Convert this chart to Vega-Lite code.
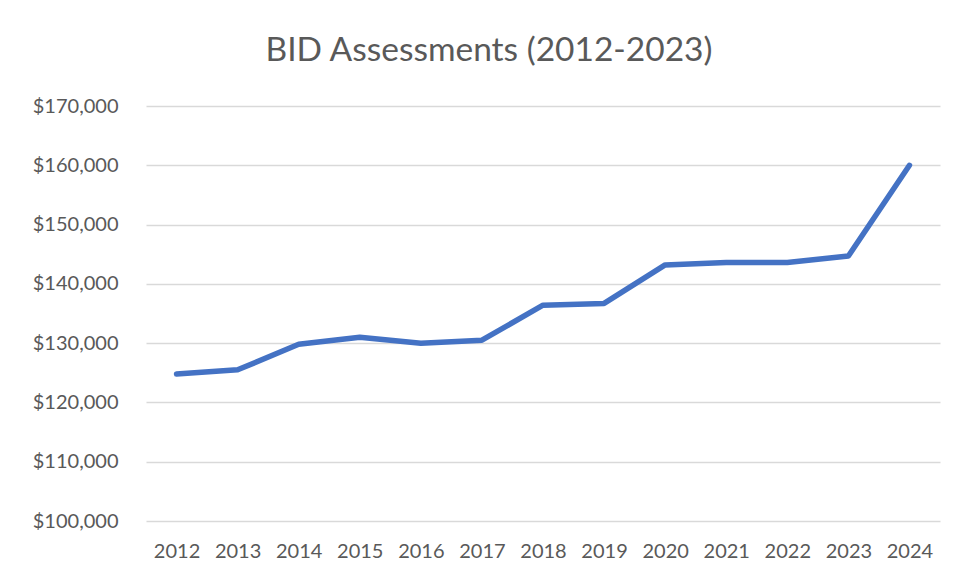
{
  "$schema": "https://vega.github.io/schema/vega-lite/v6.json",
  "autosize": {"type": "none"},
  "width": 794,
  "height": 415,
  "padding": {"left": 146, "top": 106, "right": 26, "bottom": 58},
  "background": "white",
  "config": {"view": {"stroke": null}, "font": "Lato"},
  "title": {
    "text": "BID Assessments (2012-2023)",
    "font": "Lato",
    "fontSize": 33.5,
    "fontWeight": "normal",
    "color": "#595959",
    "anchor": "middle",
    "dx": -54,
    "offset": 28
  },
  "data": {
    "values": [
      {"year": "2012", "amount": 124800},
      {"year": "2013", "amount": 125500},
      {"year": "2014", "amount": 129800},
      {"year": "2015", "amount": 131000},
      {"year": "2016", "amount": 130000},
      {"year": "2017", "amount": 130500},
      {"year": "2018", "amount": 136400},
      {"year": "2019", "amount": 136700},
      {"year": "2020", "amount": 143200},
      {"year": "2021", "amount": 143600},
      {"year": "2022", "amount": 143600},
      {"year": "2023", "amount": 144700},
      {"year": "2024", "amount": 160000}
    ]
  },
  "mark": {"type": "line", "color": "#4472C4", "strokeWidth": 5.5, "strokeCap": "round", "strokeJoin": "round"},
  "encoding": {
    "x": {
      "field": "year",
      "type": "ordinal",
      "scale": {"type": "point", "padding": 0.5},
      "axis": {
        "title": null,
        "labelAngle": 0,
        "labelFont": "Lato",
        "labelFontSize": 20,
        "labelColor": "#595959",
        "ticks": false,
        "domain": false,
        "grid": false,
        "labelPadding": 20
      }
    },
    "y": {
      "field": "amount",
      "type": "quantitative",
      "scale": {"domain": [100000, 170000], "zero": false, "nice": false},
      "axis": {
        "title": null,
        "values": [100000, 110000, 120000, 130000, 140000, 150000, 160000, 170000],
        "format": "$,.0f",
        "labelFont": "Lato",
        "labelFontSize": 20,
        "labelColor": "#595959",
        "ticks": false,
        "domain": false,
        "grid": true,
        "gridColor": "#d9d9d9",
        "gridWidth": 1.5,
        "labelPadding": 28
      }
    }
  }
}
